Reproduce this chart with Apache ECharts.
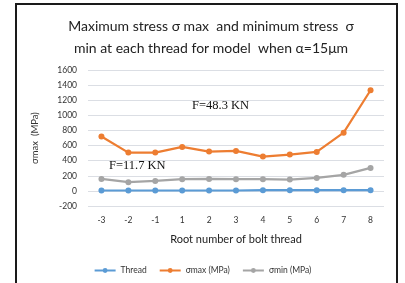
<!DOCTYPE html>
<html><head><meta charset="utf-8">
<script src="https://cdn.jsdelivr.net/npm/echarts@6/dist/echarts.min.js"></script>
<style>html,body{margin:0;padding:0;background:#fff}#c{width:405px;height:283px}</style>
</head><body><div id="c"></div>
<script>
const categories = ['-3','-2','-1','1','2','3','4','5','6','7','8'];
const threadVals = [5,5,5,5,5,5,10,10,10,10,10];
const sigmaMax = [720,507,507,582,520,529,454,480,516,771,1332];
const sigmaMin = [159,115,132,155,159,155,155,150,172,212,304];
const seriesNames = ['Thread','σmax (MPa)','σmin (MPa)'];
const colors = ['#5b9bd5','#ed7d31','#a5a5a5'];
const yMin = -200, yMax = 1600, yStep = 200;

const chart = echarts.init(document.getElementById('c'));
const mk = (name, data, color) => ({
  name, type:'line', data, symbol:'circle', symbolSize:6,
  lineStyle:{color, width:2.2}, itemStyle:{color}, animation:false
});
chart.setOption({
  animation:false,
  title:{text:'Maximum stress σ max  and minimum stress  σ\nmin at each thread for model  when α=15μm',
    left:206, top:10, textAlign:'center',
    textStyle:{fontFamily:'Lato', fontSize:14, fontWeight:'normal', color:'#222', lineHeight:22}},
  grid:{left:88, right:21, top:70, bottom:77},
  xAxis:{type:'category', data:categories, boundaryGap:true,
    name:'Root number of bolt thread', nameLocation:'middle', nameGap:28,
    nameTextStyle:{fontFamily:'Lato', fontSize:11, color:'#222'},
    axisLine:{show:false}, axisTick:{show:false},
    axisLabel:{fontFamily:'Lato', fontSize:8.5, color:'#333', margin:10}},
  yAxis:{type:'value', min:yMin, max:yMax, interval:yStep,
    name:'σmax  (MPa)', nameLocation:'middle', nameGap:48, nameRotate:90,
    nameTextStyle:{fontFamily:'Lato', fontSize:9.5, color:'#333'},
    axisLine:{show:false}, axisTick:{show:false},
    axisLabel:{fontFamily:'Lato', fontSize:8.5, color:'#333', margin:11, formatter: v => String(v)}},
  legend:{data:seriesNames, bottom:3, left:'center', itemWidth:21, itemHeight:6, itemGap:12,
    textStyle:{fontFamily:'Lato', fontSize:8.5, color:'#333'}},
  series:[mk(seriesNames[0], threadVals, colors[0]), mk(seriesNames[1], sigmaMax, colors[1]), mk(seriesNames[2], sigmaMin, colors[2])],
  graphic:[
    {type:'rect', shape:{x:16, y:4, width:381, height:300}, style:{fill:'none', stroke:'#1a1a1a', lineWidth:2}},
    {type:'text', left:192, top:99, style:{text:'F=48.3 KN', font:'12.5px "Liberation Serif"', fill:'#111'}},
    {type:'text', left:109, top:159, style:{text:'F=11.7 KN', font:'12.5px "Liberation Serif"', fill:'#111'}}
  ]
});
</script></body></html>
